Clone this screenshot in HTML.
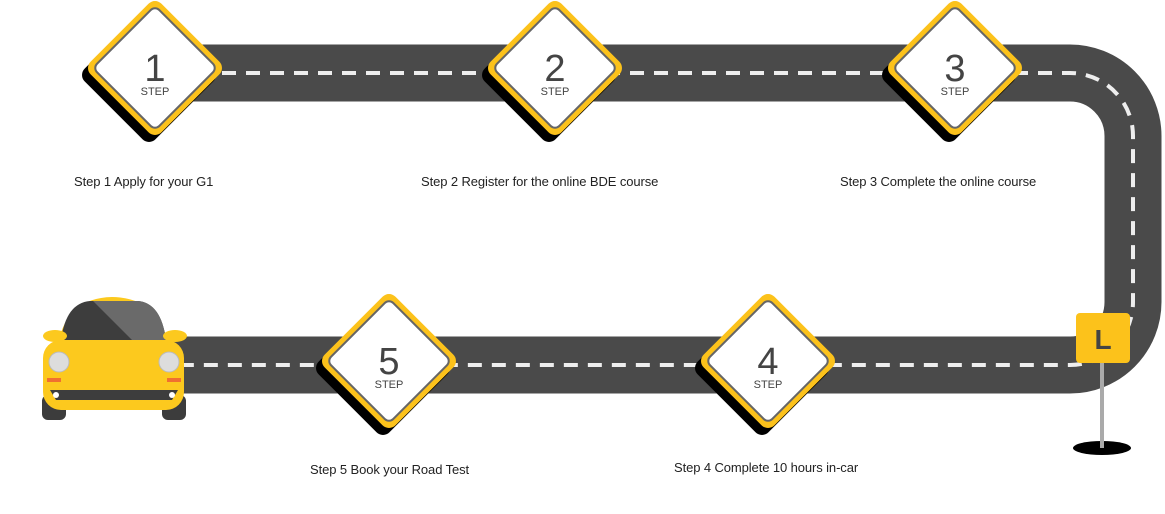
<!DOCTYPE html>
<html><head><style>
body{margin:0;width:1165px;height:514px;background:#fff;overflow:hidden;position:relative;font-family:"Liberation Sans",Arial,sans-serif}
.t{position:absolute;font-size:13px;color:#222;white-space:nowrap;letter-spacing:-0.1px}
</style></head><body>
<svg width="1165" height="514" style="position:absolute;left:0;top:0">
<defs>
<g id="d">
<rect x="-50" y="-50" width="100" height="100" rx="9" fill="#000" transform="translate(-6,7) rotate(45)"/>
<rect x="-50" y="-50" width="100" height="100" rx="9" fill="#fcc21b" transform="rotate(45)"/>
<rect x="-44" y="-44" width="88" height="88" rx="6" fill="#fff" stroke="#666" stroke-width="2" transform="rotate(45)"/>
</g>
</defs>
<path d="M150 73 H1070 A63 63 0 0 1 1133 136 V302 A63 63 0 0 1 1070 365 H170" fill="none" stroke="#4a4a4a" stroke-width="57"/>
<path d="M150 73 H1070 A63 63 0 0 1 1133 136 V302 A63 63 0 0 1 1070 365 H170" fill="none" stroke="#eee" stroke-width="4" stroke-dasharray="14 10"/>
<use href="#d" x="155" y="68"/>
<use href="#d" x="555" y="68"/>
<use href="#d" x="955" y="68"/>
<use href="#d" x="389" y="361"/>
<use href="#d" x="768" y="361"/>
<g font-family="Liberation Sans,Arial,sans-serif" fill="#444" text-anchor="middle">
<text x="155" y="81" font-size="38">1</text><text x="155" y="95" font-size="11">STEP</text>
<text x="555" y="81" font-size="38">2</text><text x="555" y="95" font-size="11">STEP</text>
<text x="955" y="81" font-size="38">3</text><text x="955" y="95" font-size="11">STEP</text>
<text x="389" y="374" font-size="38">5</text><text x="389" y="388" font-size="11">STEP</text>
<text x="768" y="374" font-size="38">4</text><text x="768" y="388" font-size="11">STEP</text>
</g>
<ellipse cx="1102" cy="448" rx="29" ry="7" fill="#000"/>
<rect x="1100" y="360" width="4" height="88" fill="#aaa"/>
<rect x="1076" y="313" width="54" height="50" rx="4" fill="#fcc21b"/>
<text x="1103" y="349" font-size="28" font-weight="bold" fill="#444" text-anchor="middle" font-family="Liberation Sans,Arial,sans-serif">L</text>
<rect x="42" y="395" width="24" height="25" rx="6" fill="#3c3c3c"/>
<rect x="162" y="395" width="24" height="25" rx="6" fill="#3c3c3c"/>
<rect x="43" y="340" width="141" height="70" rx="18" fill="#fcc91e"/>
<path d="M58 345 Q66 298 112 297 Q160 298 168 345 Z" fill="#fcc91e"/>
<path d="M61 340 Q66 303 90 301 L138 301 Q161 303 166 340 Z" fill="#3d3d3d"/>
<path d="M93 301 L138 301 Q161 303 166 340 L132 340 Z" fill="#6a6a6a"/>
<ellipse cx="55" cy="336" rx="12" ry="6" fill="#fcc91e"/>
<ellipse cx="175" cy="336" rx="12" ry="6" fill="#fcc91e"/>
<circle cx="59" cy="362" r="10" fill="#ddd" stroke="#bbb"/>
<circle cx="169" cy="362" r="10" fill="#ddd" stroke="#bbb"/>
<rect x="47" y="378" width="14" height="4" fill="#f07030"/>
<rect x="167" y="378" width="14" height="4" fill="#f07030"/>
<path d="M50 390 H178 L172 400 H56 Z" fill="#3d3d3d"/>
<circle cx="56" cy="395" r="3" fill="#fff"/><circle cx="172" cy="395" r="3" fill="#fff"/>
</svg>
<div class="t" style="left:74px;top:174px">Step 1 Apply for your G1</div>
<div class="t" style="left:421px;top:174px">Step 2 Register for the online BDE course</div>
<div class="t" style="left:840px;top:174px">Step 3 Complete the online course</div>
<div class="t" style="left:310px;top:462px">Step 5 Book your Road Test</div>
<div class="t" style="left:674px;top:460px">Step 4 Complete 10 hours in-car</div>
</body></html>
